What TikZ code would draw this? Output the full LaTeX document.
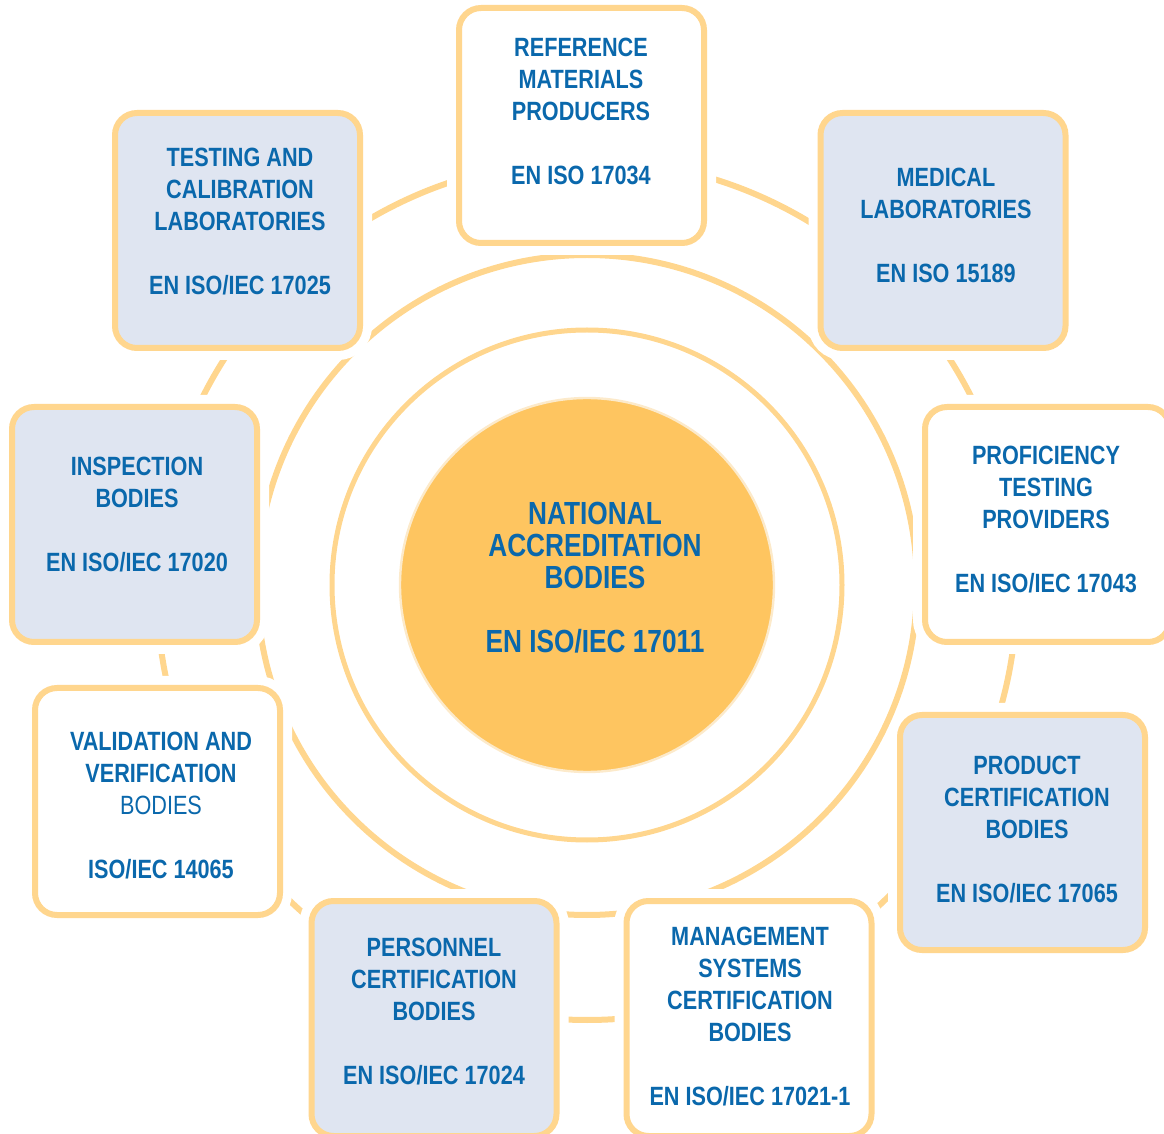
\documentclass[tikz,border=0pt]{standalone}
\usepackage{fontspec}
\setmainfont{Liberation Sans}[FakeStretch=0.82]
\definecolor{ringc}{HTML}{FFD68E}
\definecolor{boxfill}{HTML}{DFE5F1}
\definecolor{txtblue}{HTML}{0A68AC}
\definecolor{corefill}{HTML}{FEC560}
\definecolor{coreedge}{HTML}{FCEACB}
\begin{document}
\begin{tikzpicture}[x=0.5pt,y=-0.5pt,
  ring/.style={draw=ringc, line width=3pt},
  box/.style={draw=ringc, line width=3pt, rounded corners=11pt,
    minimum width=122.5pt, minimum height=117.5pt, inner sep=0pt,
    preaction={draw=white, line width=12pt}},
  bluebox/.style={box, fill=boxfill},
  whitebox/.style={box, fill=white},
  txt/.style={text=txtblue, font=\fontsize{13.2pt}{16pt}\selectfont\bfseries,
    align=center, inner sep=0pt},
  coretxt/.style={text=txtblue, font=\fontsize{16pt}{16pt}\selectfont\bfseries,
    align=center, inner sep=0pt}]
\useasboundingbox (0,0) rectangle (1164,1134);
% rings
\draw[ring] (587,590) circle[radius=215pt];
\draw[ring] (587,585) circle[radius=165pt];
\draw[ring, line width=2.5pt] (587,585) circle[radius=127.5pt];
% core
\node[circle, fill=corefill, draw=coreedge, line width=1.2pt, minimum size=187pt, inner sep=0pt] (core) at (587,585) {};
\node[coretxt] (coret) at (595,578) {NATIONAL\\ACCREDITATION\\BODIES\\[16pt]EN ISO/IEC 17011};
% boxes
\node[whitebox] (ref) at (581.5,125.5) {};
\node[txt] (reft) at (581,111) {REFERENCE\\MATERIALS\\PRODUCERS\\[16pt]EN ISO 17034};
\node[bluebox] (test) at (237.5,230.5) {};
\node[txt] (testt) at (240,222) {TESTING AND\\CALIBRATION\\LABORATORIES\\[16pt]EN ISO/IEC 17025};
\node[bluebox] (med) at (943,230.5) {};
\node[txt] (medt) at (946,225) {MEDICAL\\LABORATORIES\\[16pt]EN ISO 15189};
\node[bluebox] (insp) at (134.5,524.5) {};
\node[txt] (inspt) at (137,515) {INSPECTION\\BODIES\\[16pt]EN ISO/IEC 17020};
\node[whitebox] (prof) at (1047.5,524.5) {};
\node[txt] (proft) at (1046,520) {PROFICIENCY\\TESTING\\PROVIDERS\\[16pt]EN ISO/IEC 17043};
\node[bluebox] (prod) at (1022.5,832.5) {};
\node[txt] (prodt) at (1027,830) {PRODUCT\\CERTIFICATION\\BODIES\\[16pt]EN ISO/IEC 17065};
\node[whitebox] (mgmt) at (749,1018.5) {};
\node[txt] (mgmtt) at (750,1017) {MANAGEMENT\\SYSTEMS\\CERTIFICATION\\BODIES\\[16pt]EN ISO/IEC 17021-1};
\node[bluebox] (pers) at (434,1018.5) {};
\node[txt] (perst) at (434,1012) {PERSONNEL\\CERTIFICATION\\BODIES\\[16pt]EN ISO/IEC 17024};
\node[whitebox, minimum height=113.5pt] (valid) at (157.5,801.5) {};
\node[txt] (validt) at (161,806) {VALIDATION AND\\VERIFICATION\\{\mdseries BODIES}\\[16pt]ISO/IEC 14065};
\end{tikzpicture}
\end{document}
